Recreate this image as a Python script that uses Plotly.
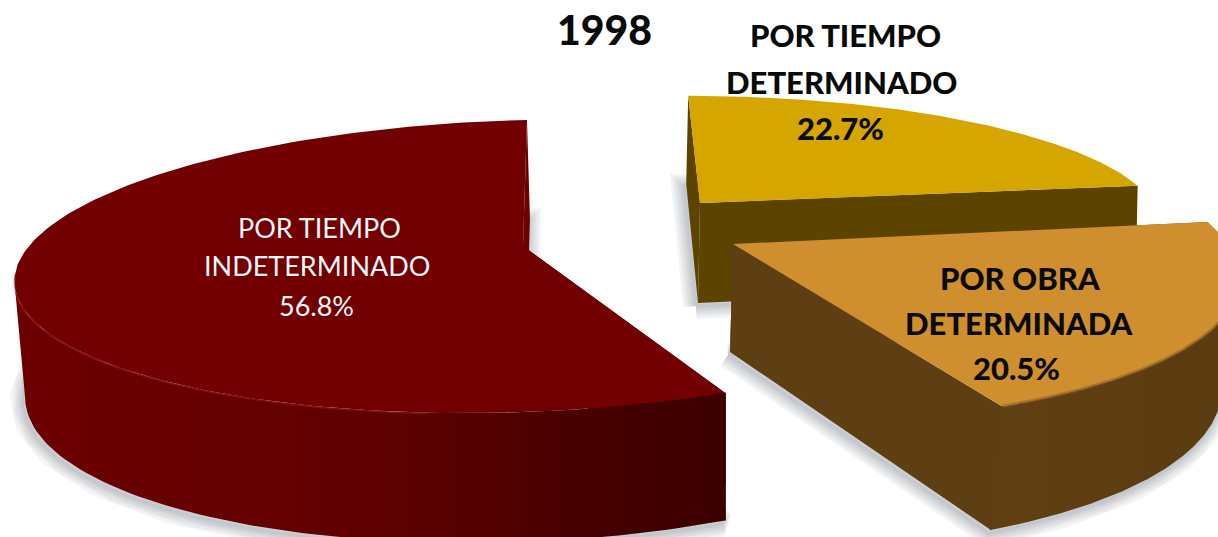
import numpy as np
import plotly.graph_objects as go

title = "1998"
categories = ["POR TIEMPO\nINDETERMINADO", "POR TIEMPO\nDETERMINADO", "POR OBRA\nDETERMINADA"]
values = [56.8, 22.7, 20.5]

# projection of each exploded wedge (style and layout, not data)
styles = {
    "red": dict(idx=0, ax=523, ay=246, R=494, Ry=144, k=.138, shear=-.35, t0=95.3, sweep=.985,
                D=112, b=.985, dxb=3, top="#720000",
                wall=[[0, "#6c0000"], [.5, "#600000"], [.8, "#480000"], [1, "#3c0000"]], ws=14, we=723),
    "yel": dict(idx=1, ax=700, ay=203, R=453, Ry=122, k=.138, shear=.11, t0=90, sweep=1,
                D=100, b=1, dxb=-2, top="#d6a600",
                wall=[[0, "#5c4300"], [1, "#5c4300"]], ws=680, we=1140),
    "ora": dict(idx=2, ax=733, ay=244, R=495, Ry=155, k=.138, shear=.25, t0=8.3, sweep=1.01,
                D=108, b=.97, dxb=-3, top="#d08f2e",
                wall=[[0, "#5e3f13"], [.6, "#603f12"], [1, "#5a3c10"]], ws=730, we=1218),
}
label_x = [[319, 317, 316], [845, 841, 840], [1020, 1019, 1016]]
label_y = [[227, 265, 305], [35, 82, 128], [278, 323, 368]]
label_color = ["#f2f6fa", "#0a0a0a", "#0a0a0a"]


def wedge(s):
    sweep = values[s["idx"]] / 100 * 360 * s["sweep"]
    sign = 1 if s["idx"] == 0 else -1
    t = np.radians(s["t0"] + sign * np.linspace(0, sweep, 160))
    w = 1 + s["k"] * np.sin(t)
    dy = -s["Ry"] * np.sin(t) / w
    x = s["ax"] + s["R"] * np.cos(t) / w + s["shear"] * dy
    y = s["ay"] + dy
    xb = s["ax"] + (x - s["ax"]) * s["b"] + s["dxb"]
    yb = y + s["D"] / w
    return x, y, xb, yb, np.sin(t)


def poly(x, y, color=None, grad=None):
    kw = dict(x=list(x), y=list(y), mode="lines", fill="toself", line=dict(width=0),
              hoverinfo="skip", showlegend=False)
    if grad is not None:
        kw["fillgradient"] = grad
    else:
        kw["fillcolor"] = color
    return go.Scatter(**kw)


def stroke(x, y, color, width):
    return go.Scatter(x=list(x), y=list(y), mode="lines", line=dict(width=width, color=color),
                      hoverinfo="skip", showlegend=False)


fig = go.Figure()
geo = {k: wedge(s) for k, s in styles.items()}

# soft ground shadows
for k, s in styles.items():
    x, y, xb, yb, _ = geo[k]
    sx = np.r_[s["ax"] + s["dxb"], xb, s["ax"] + s["dxb"]]
    sy = np.r_[s["ay"] + s["D"], yb, s["ay"] + s["D"]]
    for lw in (26, 21, 16, 11, 7, 3):
        fig.add_trace(stroke(sx - 2, sy + 3, "rgba(120,130,140,.09)", lw))

for k in ("yel", "red", "ora"):
    s = styles[k]
    x, y, xb, yb, sn = geo[k]
    solid = s["wall"][0][1]
    axb, ayb = s["ax"] + s["dxb"], s["ay"] + s["D"]
    # cut walls
    fig.add_trace(poly([x[0], s["ax"], axb, xb[0], x[0]], [y[0], s["ay"], ayb, yb[0], y[0]], solid))
    end_col = s["wall"][-1][1] if k == "red" else solid
    fig.add_trace(poly([x[-1], s["ax"], axb, xb[-1], x[-1]], [y[-1], s["ay"], ayb, yb[-1], y[-1]], end_col))
    # rim wall, from the silhouette point of the arc to its end
    if k != "yel":
        i0 = int(np.argmin(x)) if k == "red" else int(np.argmax(x))
        grad = dict(type="horizontal", colorscale=s["wall"], start=s["ws"], stop=s["we"])
        fig.add_trace(poly(np.r_[x[i0:], xb[i0:][::-1], x[i0]], np.r_[y[i0:], yb[i0:][::-1], y[i0]], grad=grad))
        fig.add_trace(stroke([x[-1], xb[-1]], [y[-1], yb[-1]], end_col, 2))
    # top face
    fig.add_trace(poly(np.r_[s["ax"], x, s["ax"]], np.r_[s["ay"], y, s["ay"]], s["top"]))

# rim highlight on the large wedge, soft bevel on the small one
x, y, _, _, _ = geo["red"]
m = (x < 430) & (y > 270)
fig.add_trace(stroke(x[m], y[m] + 1, "rgba(160,30,30,.45)", 1.6))
x, y, _, _, sn = geo["ora"]
m = sn < 0
fig.add_trace(stroke(x[m], y[m], "rgba(140,95,35,.6)", 3))

ann = [dict(x=604, y=29, text=title, showarrow=False, xref="x", yref="y",
            font=dict(family="Lato", size=41, weight=900, color="#0a0a0a"))]
for i, cat in enumerate(categories):
    lines = cat.split("\n") + [f"{values[i]:.1f}%"]
    for ln, xx, yy in zip(lines, label_x[i], label_y[i]):
        font = dict(family="Lato", size=27, color=label_color[i])
        if i > 0:
            font.update(size=31, weight=900)
        ann.append(dict(x=xx, y=yy, text=ln, showarrow=False, xref="x", yref="y", font=font))

fig.update_layout(
    width=1218, height=537, margin=dict(l=0, r=0, t=0, b=0),
    paper_bgcolor="white", plot_bgcolor="white", showlegend=False, annotations=ann,
    xaxis=dict(range=[0, 1218], visible=False, fixedrange=True),
    yaxis=dict(range=[537, 0], visible=False, fixedrange=True),
)
fig.write_html("out.html", config={"displayModeBar": False},
               post_script="document.body.style.margin='0';document.documentElement.style.overflow='hidden';")
